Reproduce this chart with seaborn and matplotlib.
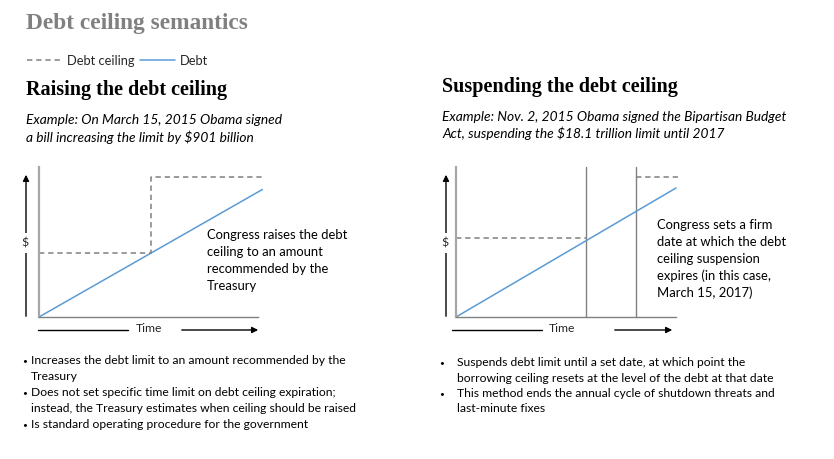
import matplotlib
matplotlib.use("Agg")
import matplotlib.pyplot as plt
import seaborn as sns
import pandas as pd
from matplotlib.lines import Line2D

# ---------------- data ----------------
legend_labels = ["Debt ceiling", "Debt"]

raise_time = [0.0, 10.2]
raise_debt = [0.0, 8.5]
raise_ceiling_time = [0.0, 5.1, 5.1, 10.2]
raise_ceiling = [4.3, 4.3, 9.3, 9.3]

susp_time = [0.0, 10.0]
susp_debt = [0.0, 8.6]
susp_ceiling1_time = [0.0, 5.9]
susp_ceiling1 = [5.3, 5.3]
susp_ceiling2_time = [8.2, 10.1]
susp_ceiling2 = [9.3, 9.3]
susp_dates = [5.9, 8.2]

title = "Debt ceiling semantics"
left_heading = "Raising the debt ceiling"
left_example = ["Example: On March 15, 2015 Obama signed",
                "a bill increasing the limit by $901 billion"]
left_note = ["Congress raises the debt", "ceiling to an amount",
             "recommended by the", "Treasury"]
left_bullets = [["Increases the debt limit to an amount recommended by the", "Treasury"],
                ["Does not set specific time limit on debt ceiling expiration;",
                 "instead, the Treasury estimates when ceiling should be raised"],
                ["Is standard operating procedure for the government"]]

right_heading = "Suspending the debt ceiling"
right_example = ["Example: Nov. 2, 2015 Obama signed the Bipartisan Budget",
                 "Act, suspending the $18.1 trillion limit until 2017"]
right_note = ["Congress sets a firm", "date at which the debt", "ceiling suspension",
              "expires (in this case,", "March 15, 2017)"]
right_bullets = [["Suspends debt limit until a set date, at which point the",
                  "borrowing ceiling resets at the level of the debt at that date"],
                 ["This method ends the annual cycle of shutdown threats and",
                  "last-minute fixes"]]

# ---------------- style ----------------
sns.set_theme(style="white")
plt.rcParams['font.family'] = ['Lato', 'DejaVu Sans']

BLUE = "#5b9bd5"
GRAY = "#808080"
LIGHTGRAY = "#a6a6a6"
W, H = 834, 459
fig = plt.figure(figsize=(8.34, 4.59), dpi=100)


def fx(x):
    return x / W


def fy(y):
    return 1 - y / H


def txt(x, y, s, **kw):
    kw.setdefault("va", "center")
    kw.setdefault("ha", "left")
    return fig.text(fx(x), fy(y), s, **kw)


def make_axes(x0, x1, ytop, ybot):
    ax = fig.add_axes([fx(x0), fy(ybot), (x1 - x0) / W, (ybot - ytop) / H])
    ax.set_xlim(0, 10)
    ax.set_ylim(0, 10)
    ax.set_xticks([])
    ax.set_yticks([])
    ax.set_xlabel("")
    ax.set_ylabel("")
    for s in ["top", "right"]:
        ax.spines[s].set_visible(False)
    ax.spines["left"].set_color(LIGHTGRAY)
    ax.spines["left"].set_linewidth(1.6)
    ax.spines["bottom"].set_color(GRAY)
    ax.spines["bottom"].set_linewidth(1.0)
    ax.patch.set_alpha(0)
    return ax


def arrows(ax_y_x, x_left, x_gap0, x_gap1, x_right, time_x):
    # vertical $ arrow
    fig.add_artist(matplotlib.patches.FancyArrowPatch(
        (fx(ax_y_x), fy(319)), (fx(ax_y_x), fy(172)), transform=fig.transFigure,
        arrowstyle="-|>", mutation_scale=9, color="black", lw=1.0))
    t = txt(ax_y_x - 1.5, 243, "$", fontsize=8.8, ha="center",
            bbox=dict(facecolor="white", edgecolor="none", pad=3))
    t.set_zorder(5)
    # horizontal time arrow
    fig.add_artist(Line2D([fx(x_left), fx(x_gap0)], [fy(330), fy(330)],
                          transform=fig.transFigure, color="black", lw=1.0))
    fig.add_artist(matplotlib.patches.FancyArrowPatch(
        (fx(x_gap1), fy(330)), (fx(x_right), fy(330)), transform=fig.transFigure,
        arrowstyle="-|>", mutation_scale=9, color="black", lw=1.0))
    txt(time_x, 329, "Time", fontsize=8.7, ha="center")


DASH = (0, (3.5, 2.5))

# ---------------- left chart ----------------
axL = make_axes(39, 258, 167, 317)
sns.lineplot(x=raise_time, y=raise_debt, ax=axL, color=BLUE, lw=1.1,
             estimator=None, sort=False)
sns.lineplot(x=raise_ceiling_time, y=raise_ceiling, ax=axL, color=GRAY, lw=1.1,
             linestyle=DASH, estimator=None, sort=False)
for l in axL.lines:
    l.set_clip_on(False)
arrows(26, 38, 128, 179, 261, 149)

# ---------------- right chart ----------------
axR = make_axes(456, 676, 167, 317)
for d in susp_dates:
    axR.axvline(d, color=GRAY, lw=1.0)
sns.lineplot(x=susp_time, y=susp_debt, ax=axR, color=BLUE, lw=1.1,
             estimator=None, sort=False)
sns.lineplot(x=susp_ceiling1_time, y=susp_ceiling1, ax=axR, color=GRAY, lw=1.1,
             linestyle=DASH, estimator=None, sort=False)
sns.lineplot(x=susp_ceiling2_time, y=susp_ceiling2, ax=axR, color=GRAY, lw=1.1,
             linestyle=DASH, estimator=None, sort=False)
for l in axR.lines:
    l.set_clip_on(False)
arrows(446, 452, 542, 612, 675, 562)

# ---------------- texts ----------------
txt(26, 23, title, fontsize=16.8, fontweight="bold", color=GRAY,
    family="Liberation Serif")

handles = [Line2D([], [], color=GRAY, lw=1.1, linestyle=DASH),
           Line2D([], [], color=BLUE, lw=1.1)]
fig.legend(handles, legend_labels, loc="center left",
           bbox_to_anchor=(fx(27), fy(61)), ncol=2, frameon=False,
           fontsize=9.3, handlelength=2.7, handletextpad=0.4,
           columnspacing=0.4, borderpad=0, borderaxespad=0)

txt(26, 90, left_heading, fontsize=14.5, fontweight="bold", color="black",
    family="Liberation Serif")
txt(442, 87, right_heading, fontsize=14.5, fontweight="bold", color="black",
    family="Liberation Serif")

for i, line in enumerate(left_example):
    txt(26, 120 + 17 * i, line, fontsize=9.9, style="italic", color="black")
for i, line in enumerate(right_example):
    txt(442, 117 + 16.5 * i, line, fontsize=9.9, style="italic", color="black")

for i, line in enumerate(left_note):
    txt(207, 235 + 17 * i, line, fontsize=9.4, color="black")
for i, line in enumerate(right_note):
    txt(657, 225 + 17 * i, line, fontsize=9.4, color="black")


def bullets(xb, xt, y0, items, step=16):
    y = y0
    for item in items:
        txt(xb, y, "\u2022", fontsize=6, color="black")
        for line in item:
            txt(xt, y, line, fontsize=8.75, color="black")
            y += step


bullets(22.5, 31, 361, left_bullets)
bullets(439, 457, 363, right_bullets, step=15.3)

fig.savefig("out.png", dpi=100, facecolor="white")
